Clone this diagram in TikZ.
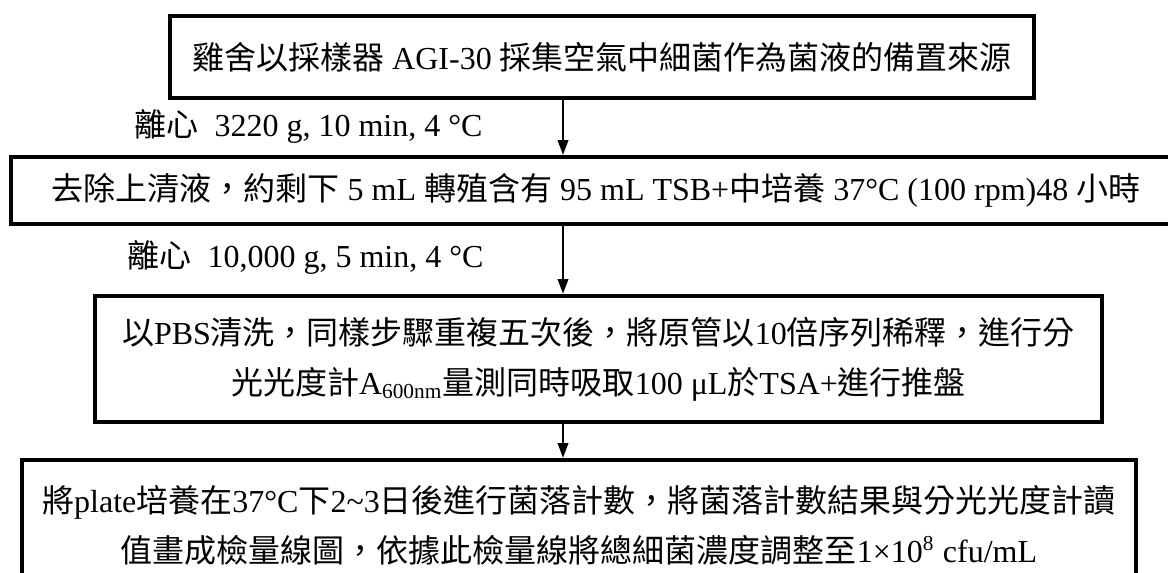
\documentclass[tikz,border=0pt]{standalone}
\usepackage{fontspec}
\setmainfont{Liberation Serif}
\newfontfamily\cjk{Noto Sans CJK TC}
\newcommand{\zh}[1]{{\cjk #1}}
\usetikzlibrary{arrows.meta}

\begin{document}
\begin{tikzpicture}[x=0.375pt,y=-0.375pt,
	box/.style={shape=rectangle,draw=black,line width=1.7pt,inner sep=0pt,align=center,font=\fontsize{12}{18.75}\selectfont},
	note/.style={anchor=west,inner sep=0pt,font=\fontsize{12}{14}\selectfont},
	flow/.style={-{Triangle[length=5.5pt,width=4pt]},line width=0.55pt}]
	\useasboundingbox (0,0) rectangle (1168,572);
	\clip (0,0) rectangle (1168,572);
	\coordinate (mid) at (563, 0);
	\node[box,minimum width=324pt,minimum height=30.75pt] (collect) at (602, 57) {\zh{雞舍以採樣器} AGI-30 \zh{採集空氣中細菌作為菌液的備置來源}};
	\node[box,minimum width=438.75pt,minimum height=25.1pt] (culture) at (596, 190.5) {\zh{去除上清液，約剩下} 5 mL \zh{轉殖含有} 95 mL TSB+\zh{中培養} 37°C (100 rpm)48 \zh{小時}};
	\node[box,minimum width=377.6pt,minimum height=47.25pt] (wash) at (598.5, 359) {\zh{以}PBS\zh{清洗，同樣步驟重複五次後，將原管以}10\zh{倍序列稀釋，進行分}\\\zh{光光度計}A\textsubscript{600nm}\zh{量測同時吸取}100 μL\zh{於}TSA+\zh{進行推盤}};
	\node[box,minimum width=417.75pt,minimum height=48.75pt] (count) at (579, 525) {\zh{將}plate\zh{培養在}37°C\zh{下}2\textasciitilde3\zh{日後進行菌落計數，將菌落計數結果與分光光度計讀}\\\zh{值畫成檢量線圖，依據此檢量線將總細菌濃度調整至}1×10\textsuperscript{8} cfu/mL};
	\node[note] (spin1) at (134, 126) {\zh{離心}\ \ 3220 g, 10 min, 4 °C};
	\node[note] (spin2) at (127, 257) {\zh{離心}\ \ 10,000 g, 5 min, 4 °C};
	\draw[flow] (collect.south -| mid) -- (culture.north -| mid);
	\draw[flow] (culture.south -| mid) -- (wash.north -| mid);
	\draw[flow] (wash.south -| mid) -- (count.north -| mid);
\end{tikzpicture}
\end{document}
